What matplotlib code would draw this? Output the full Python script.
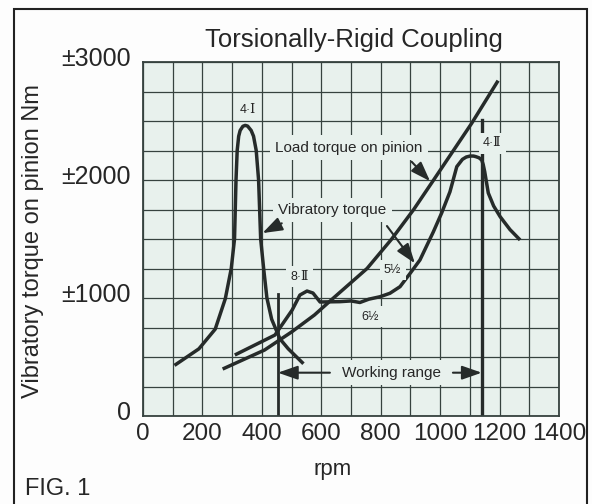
import matplotlib
matplotlib.use("Agg")
import matplotlib.pyplot as plt
from matplotlib import font_manager
from matplotlib.patches import Rectangle
import matplotlib.transforms as mtransforms

# ---------------- data ----------------
x_ticks = [0, 200, 400, 600, 800, 1000, 1200, 1400]
y_ticks = [0, 1000, 2000, 3000]
y_tick_labels = ["0", "\u00b11000", "\u00b12000", "\u00b13000"]

# 4-I resonance curve (rpm, Nm)
res4I_rpm = [106, 188, 243, 277, 297, 308, 313, 317, 322, 327, 336, 344, 352,
             364, 372, 381, 389, 396, 406, 417, 433, 447, 461, 489, 540]
res4I_nm = [429, 569, 736, 994, 1250, 1500, 2000, 2250, 2371, 2420, 2455, 2463,
            2457, 2420, 2371, 2250, 2000, 1500, 1250, 1000, 820, 736, 653, 569, 443]

# load torque on pinion
load_rpm = [268, 409, 500, 577, 641, 754, 837, 911, 978, 1106, 1195]
load_nm = [398, 559, 712, 856, 1000, 1250, 1500, 1750, 2000, 2480, 2842]

# vibratory torque (8-II, 6 1/2, 5 1/2, 4-II)
vib_rpm = [309, 444, 502, 528, 552, 572, 596, 640, 663, 700, 730, 760, 798, 831,
           865, 899, 932, 977, 1005, 1033, 1056, 1075, 1088, 1101, 1112, 1120,
           1131, 1140, 1145, 1150, 1162, 1180, 1202, 1235, 1269]
vib_nm = [517, 686, 898, 1025, 1059, 1042, 966, 968, 969, 975, 962, 990, 1011,
          1040, 1096, 1209, 1322, 1560, 1720, 1900, 2113, 2175, 2195, 2203, 2203,
          2198, 2188, 2169, 2130, 2070, 1890, 1780, 1689, 1580, 1492]

work_lo, work_hi = 454, 1140
work_lo_top, work_hi_top = 1034, 2229
work_hi_tick = (2415, 2508)
work_label_nm = 367

# ---------------- style ----------------
names = {f.name for f in font_manager.fontManager.ttflist}
SANS = "Liberation Sans" if "Liberation Sans" in names else "DejaVu Sans"
NARROW = "Liberation Sans Narrow" if "Liberation Sans Narrow" in names else SANS
plt.rcParams["font.family"] = [SANS, "DejaVu Sans"]

BG = "#e8f1ed"
GRID = "#36423f"
INK = "#262b2a"
TXT = "#262626"

fig = plt.figure(figsize=(5.92, 5.04), dpi=100)
fig.patch.set_facecolor("#fdfdfd")
W, H = 592, 504
ax = fig.add_axes([143 / W, (H - 416) / H, 416 / W, 354 / H])
ax.set_facecolor(BG)
ax.set_xlim(0, 1400)
ax.set_ylim(0, 3000)

ax.grid(True, color=GRID, lw=0.9)
ax.set_axisbelow(True)
for s in ax.spines.values():
    s.set_color(GRID)
    s.set_linewidth(1.3)
ax.tick_params(length=0)

ax.set_xticks(range(0, 1401, 100))
ax.set_xticklabels([str(v) if v in x_ticks else "" for v in range(0, 1401, 100)],
                   fontfamily=NARROW, fontsize=17.5, color=TXT)
ax.set_yticks(range(0, 3001, 250))
ylab_map = dict(zip(y_ticks, y_tick_labels))
ax.set_yticklabels([ylab_map.get(v, "") for v in range(0, 3001, 250)],
                   fontsize=18, color=TXT)
ax.tick_params(axis="x", pad=5)
ax.tick_params(axis="y", pad=9)
off = mtransforms.ScaledTranslation(0, 5 / 100, fig.dpi_scale_trans)
for lab in ax.get_yticklabels():
    lab.set_transform(lab.get_transform() + off)

# curves
ckw = dict(color=INK, lw=2.5, solid_joinstyle="round", solid_capstyle="butt", zorder=2)
ax.plot(res4I_rpm, res4I_nm, **ckw)
ax.plot(load_rpm, load_nm, **ckw)
ax.plot(vib_rpm, vib_nm, **ckw)

# working range lines
ax.plot([work_lo, work_lo], [0, work_lo_top], color=INK, lw=2.0, zorder=2)
ax.plot([work_hi, work_hi], [0, work_hi_top], color=INK, lw=2.4, zorder=2)
ax.plot([work_hi, work_hi], list(work_hi_tick), color=INK, lw=2.4, zorder=2)

box = dict(boxstyle="square,pad=0.35", fc=BG, ec="none")
tkw = dict(ha="center", va="center", color=TXT, zorder=3)
roman = [SANS, "DejaVu Serif"]

ax.text(353, 2593, "4\u00b7\u2160", fontsize=9, family=roman, bbox=box, **tkw)
ax.text(693, 2275, "Load torque on pinion", fontsize=11, bbox=box, **tkw)
ax.text(638, 1746, "Vibratory torque", fontsize=11, bbox=box, **tkw)
ax.text(528, 1180, "8\u00b7\u2161", fontsize=9, family=roman, bbox=box, **tkw)
ax.text(840, 1237, "5\u00bd", fontsize=9, bbox=box, **tkw)
ax.text(764, 842, "6\u00bd", fontsize=9, bbox=box, **tkw)
ax.text(1175, 2311, "4\u00b7\u2161", fontsize=9, family=roman, bbox=box, **tkw)
ax.text(835, work_label_nm, "Working range", fontsize=11, bbox=box, **tkw)

akw = dict(arrowstyle="-|>,head_length=0.8,head_width=0.28", color=INK, lw=1.5,
           shrinkA=0, shrinkB=0, mutation_scale=15)
ax.annotate("", xy=(402, 1550), xytext=(467, 1633), arrowprops=akw, zorder=3)
ax.annotate("", xy=(915, 1294), xytext=(821, 1610), arrowprops=akw, zorder=3)
ax.annotate("", xy=(966, 1990), xytext=(904, 2155), arrowprops=akw, zorder=3)
ax.annotate("", xy=(work_lo, work_label_nm), xytext=(629, work_label_nm),
            arrowprops=akw, zorder=3)
ax.annotate("", xy=(work_hi, work_label_nm), xytext=(1043, work_label_nm),
            arrowprops=akw, zorder=3)

# figure texts
fig.text(354 / W, 1 - 47 / H, "Torsionally-Rigid Coupling", fontsize=18.5,
         ha="center", va="baseline", color=TXT)
fig.text(333 / W, 1 - 470 / H, "rpm", fontsize=16, ha="center", va="center", color=TXT)
fig.text(33 / W, 1 - 241 / H, "Vibratory torque on pinion Nm", fontsize=17,
         rotation=90, ha="center", va="center", color=TXT)
fig.text(25 / W, 1 - 495 / H, "FIG. 1", fontsize=17, family=[NARROW, "DejaVu Sans"],
         ha="left", va="baseline", color=TXT)

# outer frame
fig.add_artist(Rectangle((14 / W, -0.05), (587 - 14) / W, (1 - 9 / H) + 0.05,
                         transform=fig.transFigure, fill=False, lw=1.5, ec="#222222"))

fig.savefig("out.png", dpi=100, facecolor=fig.get_facecolor())
